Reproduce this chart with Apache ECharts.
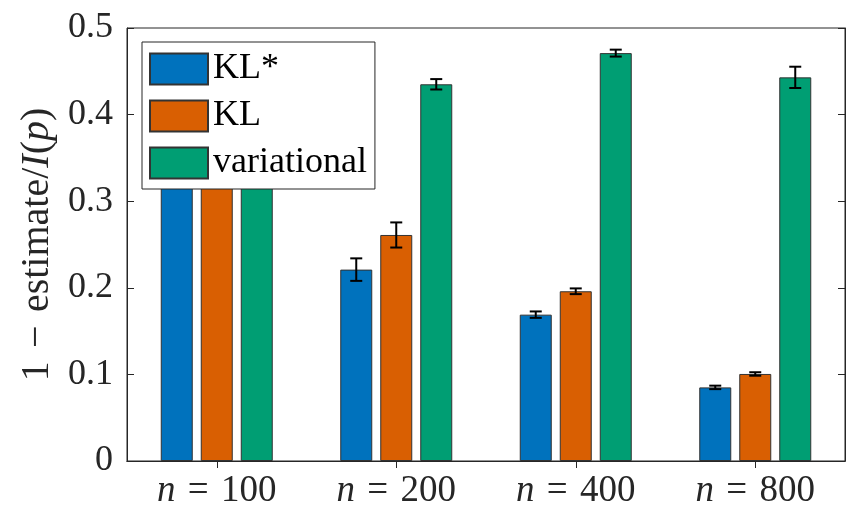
<!DOCTYPE html>
<html>
<head>
<meta charset="utf-8">
<script src="https://cdn.jsdelivr.net/npm/echarts@6/dist/echarts.min.js"></script>
<style>html,body{margin:0;padding:0;background:#fff;}#c{width:846px;height:510px;}</style>
</head>
<body>
<div id="c"></div>
<script>
const categories = ['100', '200', '400', '800'];
const seriesNames = ['KL*', 'KL', 'variational'];
const klStar = [0.42, 0.221, 0.169, 0.085];
const kl = [0.44, 0.261, 0.196, 0.1005];
const variational = [0.46, 0.435, 0.471, 0.443];
const errKlStar = [0.005, 0.013, 0.0037, 0.002];
const errKl = [0.005, 0.0145, 0.0033, 0.002];
const errVariational = [0.005, 0.006, 0.004, 0.0123];
const yTicks = [0, 0.1, 0.2, 0.3, 0.4, 0.5];

const colors = ['#0072BD', '#D95F02', '#009E73'];
const values = [klStar, kl, variational];
const errs = [errKlStar, errKl, errVariational];
const FONT = 'Liberation Serif, serif';
const BAR_W = 32, OFFSETS = [-40, 0, 40];

const chart = echarts.init(document.getElementById('c'), null, {renderer: 'canvas'});

const barSeries = values.map((v, i) => ({
  name: seriesNames[i],
  type: 'bar',
  data: v,
  barWidth: BAR_W,
  barGap: '25%',
  itemStyle: {color: colors[i], borderColor: '#333333', borderWidth: 1},
  emphasis: {disabled: true},
  z: 2
}));

const errSeries = values.map((v, i) => ({
  type: 'custom',
  data: v.map((y, k) => [k, y, errs[i][k]]),
  z: 3,
  silent: true,
  renderItem: function (params, api) {
    const k = api.value(0), y = api.value(1), e = api.value(2);
    const top = api.coord([k, y + e]);
    const bot = api.coord([k, y - e]);
    const x = top[0] + OFFSETS[i];
    const cw = 6;
    const st = {stroke: '#000', lineWidth: 2};
    return {type: 'group', children: [
      {type: 'line', shape: {x1: x, y1: top[1], x2: x, y2: bot[1]}, style: st},
      {type: 'line', shape: {x1: x - cw, y1: top[1], x2: x + cw, y2: top[1]}, style: st},
      {type: 'line', shape: {x1: x - cw, y1: bot[1], x2: x + cw, y2: bot[1]}, style: st}
    ]};
  }
}));

const axisLine = {show: true, lineStyle: {color: '#262626', width: 1}};

chart.setOption({
  animation: false,
  backgroundColor: '#fff',
  grid: {left: 127, right: 1, top: 28, bottom: 48, show: true, borderColor: '#262626', borderWidth: 1, backgroundColor: 'transparent'},
  legend: {
    data: seriesNames,
    orient: 'vertical',
    left: 142, top: 42,
    itemWidth: 58, itemHeight: 31, itemGap: 11,
    padding: [9, 8, 8, 7],
    backgroundColor: '#fff',
    borderColor: '#262626', borderWidth: 1, borderRadius: 0,
    icon: 'rect',
    selectedMode: false,
    textStyle: {fontFamily: FONT, fontSize: 36, lineHeight: 31, color: '#000'},
    z: 10
  },
  xAxis: [{
    type: 'category',
    data: categories,
    axisLine: axisLine,
    axisTick: {show: true, inside: true, alignWithLabel: true, length: 7, lineStyle: {color: '#262626'}},
    axisLabel: {
      interval: 0,
      margin: 12,
      formatter: v => '{i|n}\u2004=\u2004' + v,
      fontFamily: FONT, fontSize: 37, color: '#262626',
      rich: {i: {fontFamily: FONT, fontStyle: 'italic', fontSize: 37, color: '#262626'}}
    },
    splitLine: {show: false}
  }, {
    type: 'category',
    data: categories,
    position: 'top',
    axisLine: axisLine,
    axisTick: {show: true, inside: true, alignWithLabel: true, length: 7, lineStyle: {color: '#262626'}},
    axisLabel: {show: false},
    splitLine: {show: false}
  }],
  yAxis: [{
    type: 'value',
    min: yTicks[0], max: yTicks[yTicks.length - 1], interval: 0.1,
    axisLine: axisLine,
    axisTick: {show: true, inside: true, length: 7, lineStyle: {color: '#262626'}},
    axisLabel: {margin: 14, fontFamily: FONT, fontSize: 36, color: '#262626', formatter: v => String(+v.toFixed(1))},
    splitLine: {show: false},
    name: '{n|1\u2004−\u2004estimate/}{i|I}{n|(}{i|p}{n|)}',
    nameLocation: 'middle',
    nameGap: 68,
    nameRotate: 90,
    nameTextStyle: {
      fontFamily: FONT, fontSize: 40, color: '#262626',
      rich: {
        n: {fontFamily: FONT, fontSize: 40, color: '#262626'},
        i: {fontFamily: FONT, fontSize: 40, fontStyle: 'italic', color: '#262626'}
      }
    }
  }, {
    type: 'value',
    position: 'right',
    min: yTicks[0], max: yTicks[yTicks.length - 1], interval: 0.1,
    axisLine: axisLine,
    axisTick: {show: true, inside: true, length: 7, lineStyle: {color: '#262626'}},
    axisLabel: {show: false},
    splitLine: {show: false}
  }],
  series: barSeries.concat(errSeries)
});
</script>
</body>
</html>
